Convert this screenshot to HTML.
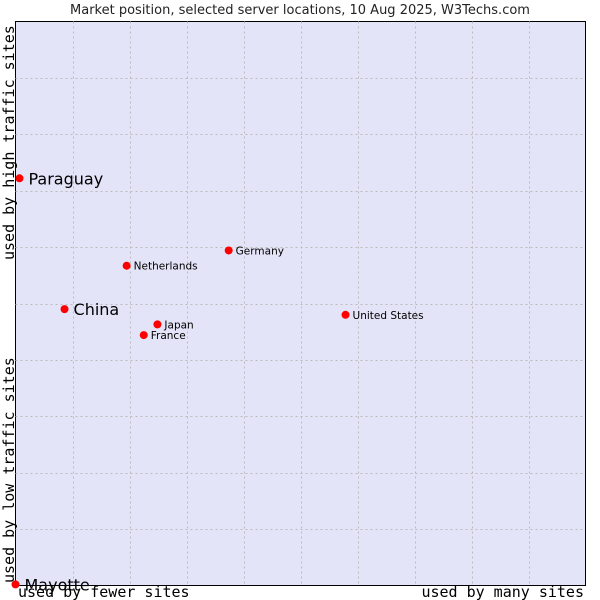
<!DOCTYPE html>
<html><head><meta charset="utf-8"><style>
body{margin:0;background:#fff;width:600px;height:600px;overflow:hidden}
svg{display:block}
</style></head><body>
<svg id="chart" width="600" height="600" xmlns="http://www.w3.org/2000/svg">
<text x="300" y="14" text-anchor="middle" font-family="DejaVu Sans, sans-serif" font-size="13" fill="#222">Market position, selected server locations, 10 Aug 2025, W3Techs.com</text>
<rect x="15.5" y="21.5" width="570" height="564" fill="#e3e4f7" stroke="#000" stroke-width="1"/>
<g id="grid"></g>
<text transform="translate(14,260) rotate(-90)" font-family="DejaVu Sans Mono, monospace" font-size="15" fill="#000">used by high traffic sites</text>
<text transform="translate(14,583) rotate(-90)" font-family="DejaVu Sans Mono, monospace" font-size="15" fill="#000">used by low traffic sites</text>
<text x="18" y="597" font-family="DejaVu Sans Mono, monospace" font-size="15" fill="#000">used by fewer sites</text>
<text x="584" y="597" text-anchor="end" font-family="DejaVu Sans Mono, monospace" font-size="15" fill="#000">used by many sites</text>
<g id="points"></g>
</svg>
<script>
const countries = ["Paraguay","China","Netherlands","Germany","Japan","France","United States","Mayotte"];
const siteShare = [0.7, 8.6, 19.5, 37.4, 24.9, 22.5, 57.9, 0];
const trafficRank = [72.2, 49.0, 56.7, 59.4, 46.3, 44.4, 48.0, 0.2];
const highlighted = [true, true, false, false, false, false, false, true];
const gridTicks = [10,20,30,40,50,60,70,80,90];

const NS="http://www.w3.org/2000/svg";
const L=15.5,R=585.5,T=21.5,B=585.5;
const xs=v=>L+(R-L)*v/100;
const ys=v=>B-(B-T)*v/100;
const grid=document.getElementById('grid');
gridTicks.forEach(t=>{
  const v=document.createElementNS(NS,'line');
  
  
  v.setAttribute('x1',Math.round(xs(t))+0.5);v.setAttribute('x2',Math.round(xs(t))+0.5);
  v.setAttribute('y1',T);v.setAttribute('y2',B);
  v.setAttribute('stroke','#bbb');v.setAttribute('stroke-dasharray','2,3');
  grid.appendChild(v);
  const h=document.createElementNS(NS,'line');
  
  
  h.setAttribute('y1',Math.round(ys(t))+0.5);h.setAttribute('y2',Math.round(ys(t))+0.5);
  h.setAttribute('x1',L);h.setAttribute('x2',R);
  h.setAttribute('stroke','#bbb');h.setAttribute('stroke-dasharray','2,3');
  grid.appendChild(h);
});
const pts=document.getElementById('points');
countries.forEach((c,i)=>{
  const x=xs(siteShare[i]),y=ys(trafficRank[i]);
  const d=document.createElementNS(NS,'circle');
  
  
  d.setAttribute('cx',x);d.setAttribute('cy',y);d.setAttribute('r',4);d.setAttribute('fill','#f00');
  pts.appendChild(d);
  const t=document.createElementNS(NS,'text');
  
  
  const big=highlighted[i];
  t.setAttribute('x',x+(big?9:7));t.setAttribute('y',y+(big?6:4));
  t.setAttribute('font-family','DejaVu Sans, sans-serif');
  t.setAttribute('font-size',big?16:10.5);
  t.setAttribute('fill','#000');
  t.textContent=c;
  pts.appendChild(t);
});
</script>
</body></html>
